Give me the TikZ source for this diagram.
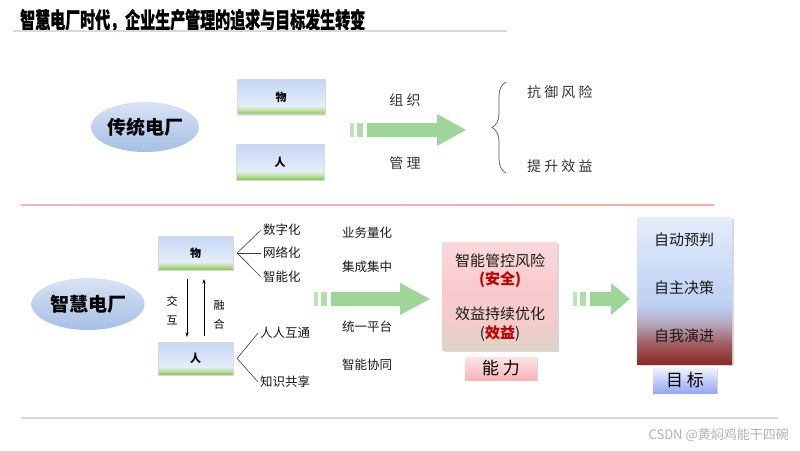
\documentclass[tikz,border=0pt]{standalone}
\usepackage{fontspec}
\setmainfont{Noto Sans CJK SC}
\newfontfamily\titlefont[BoldFeatures={FakeBold=1}]{Noto Sans CJK SC}
\usetikzlibrary{shapes.geometric, arrows.meta, positioning, decorations.pathreplacing, shadows}
\definecolor{itemtop}{HTML}{C6D7F4}
\definecolor{itemmid}{HTML}{E4EDF9}
\definecolor{itemgreenlt}{HTML}{BEDF9C}
\definecolor{itemgreen}{HTML}{80C255}
\definecolor{ovaltop}{HTML}{D8E3F4}
\definecolor{ovalbottom}{HTML}{A5BFE5}
\definecolor{arrowgreen}{HTML}{9ED598}
\definecolor{arrowgreenlt}{HTML}{BDE3B8}
\definecolor{riskred}{HTML}{C00000}
\definecolor{nlbottom}{HTML}{DDD3C5}
\definecolor{nlmid}{HTML}{F8C9CC}
\definecolor{nltop}{HTML}{FAD9DB}
\definecolor{mbred}{HTML}{8A2C2C}
\definecolor{mbmauve}{HTML}{A05556}
\definecolor{mbgrey}{HTML}{B7A9C0}
\definecolor{mbblue}{HTML}{BDD0F3}
\definecolor{mbtop}{HTML}{E4ECFA}
\pgfdeclareverticalshading{itemshade}{100bp}{color(0bp)=(itemgreen); color(25bp)=(itemgreen); color(31bp)=(itemgreenlt); color(37bp)=(itemmid); color(75bp)=(itemtop); color(100bp)=(itemtop)}
\pgfdeclareverticalshading{nlshade}{100bp}{color(0bp)=(nlbottom); color(25bp)=(nlbottom); color(38bp)=(nlmid!80!nlbottom); color(52bp)=(nlmid); color(75bp)=(nltop); color(100bp)=(nltop)}
\pgfdeclareverticalshading{mbshade}{100bp}{color(0bp)=(mbred); color(25bp)=(mbred); color(31bp)=(mbmauve); color(39bp)=(mbgrey); color(45bp)=(mbblue); color(75bp)=(mbtop); color(100bp)=(mbtop)}

\begin{document}
\begin{tikzpicture}[
    x=1pt, y=-1pt,
    itembox/.style={shading=itemshade, draw=white!85!black, line width=0.3pt, inner sep=0pt, font=\fontsize{11}{11}\selectfont\bfseries, drop shadow={opacity=0.25, shadow xshift=1pt, shadow yshift=-1pt}},
    plantoval/.style={ellipse, top color=ovaltop, bottom color=ovalbottom, inner sep=0pt, font=\fontsize{19}{19}\selectfont\bfseries},
    note/.style={inner sep=2pt, font=\fontsize{14}{14}\selectfont, text=black!80},
    item/.style={anchor=west, inner sep=2pt, font=\fontsize{12.5}{12.5}\selectfont, text=black!90},
    vlabel/.style={inner sep=0pt, align=center, font=\fontsize{11}{19}\selectfont},
    paneltext/.style={inner sep=0pt, font=\fontsize{15}{15}\selectfont, text=black!90},
    tag/.style={inner sep=0pt, font=\fontsize{17}{17}\selectfont, drop shadow={opacity=0.3, shadow xshift=1pt, shadow yshift=-1pt}},
    fan/.style={draw=black!75, line width=0.6pt},
    link/.style={-{Stealth[length=1.6mm, width=1.2mm]}, line width=0.6pt}
]
    \useasboundingbox[fill=white] (0,0) rectangle (800,450);

    % title
    \node[anchor=west, inner sep=0pt, font=\titlefont\fontsize{15}{15}\selectfont\bfseries] (title) at (20,20.5) {\scalebox{1}[1.5]{智慧电厂时代，企业生产管理的追求与目标发生转变}};
    \draw[white!85!black, line width=1.2pt] (13,31) -- (507,31);

    % traditional plant
    \node[plantoval, minimum width=108pt, minimum height=50pt] (oldplant) at (145,127) {传统电厂};
    \node[itembox, minimum width=88pt, minimum height=35pt] (wu1) at (281,97) {物};
    \node[itembox, minimum width=88pt, minimum height=36pt] (ren1) at (280,162) {人};
    \node[note] (zuzhi) at (405,100) {组 织};
    \node[note] (guanli) at (405,163) {管 理};
    \coordinate (brbottom) at (506,173);
    \coordinate (brtop) at (506,82);
    \draw[black!65, line width=0.7pt, decorate, decoration={brace, amplitude=14pt}] (brbottom) -- (brtop);
    \node[note, anchor=west] (kangyu) at (525,92) {抗 御 风 险};
    \node[note, anchor=west] (tisheng) at (525,166) {提 升 效 益};

    % separator
    \shade[left color=red!30!white, middle color=red!60!white, right color=red!35!white] (21,204.3) rectangle (714,205.8);

    % smart plant
    \node[plantoval, minimum width=113pt, minimum height=52pt] (newplant) at (88,304) {智慧电厂};
    \node[itembox, minimum width=75pt, minimum height=34pt] (wu2) at (195.5,253) {物};
    \node[itembox, minimum width=75pt, minimum height=33pt] (ren2) at (195.5,358.5) {人};
    \draw[link, shorten <=9pt, shorten >=5pt] ([xshift=-8.5pt]wu2.south) -- ([xshift=-8.5pt]ren2.north);
    \draw[link, shorten <=6pt, shorten >=9pt] ([xshift=8.5pt]ren2.north) -- ([xshift=8.5pt]wu2.south);
    \node[vlabel] (jiaohu) at (172,311) {交\\互};
    \node[vlabel] (ronghe) at (219,315) {融\\合};

    \node[item] (shuzi) at (261,230) {数字化};
    \node[item] (wangluo) at (261,253) {网络化};
    \node[item] (zhineng) at (261,277) {智能化};
    \node[item] (hutong) at (258,333) {人人互通};
    \node[item] (gongxiang) at (258,382) {知识共享};
    \coordinate (wufan) at ([xshift=4pt]wu2.east);
    \coordinate (renfan) at ([xshift=4pt]ren2.east);
    \foreach \t in {shuzi, wangluo, zhineng}
        \draw[fan] (wufan) -- (\t.west);
    \foreach \t in {hutong, gongxiang}
        \draw[fan] (renfan) -- (\t.west);

    \node[item] (lianghua) at (340,233) {业务量化};
    \node[item] (jicheng) at (340,267) {集成集中};
    \node[item] (pingtai) at (340,327) {统一平台};
    \node[item] (xietong) at (340,365) {智能协同};

    % block arrows: tip / centre / length / head length
    \foreach \tip/\cy/\len/\hl in {466/130/116/29, 430/299/116/30, 630/299/57/19} {
        \fill[arrowgreenlt] (\tip-\len,\cy-7) rectangle (\tip-\len+4,\cy+7);
        \fill[arrowgreenlt!60!arrowgreen] (\tip-\len+7,\cy-7) rectangle (\tip-\len+13,\cy+7);
        \fill[arrowgreen] (\tip-\len+17,\cy-7) -- (\tip-\hl,\cy-7) -- (\tip-\hl,\cy-16)
            -- (\tip,\cy) -- (\tip-\hl,\cy+16) -- (\tip-\hl,\cy+7) -- (\tip-\len+17,\cy+7) -- cycle;
    }

    % capability
    \node[shading=nlshade, minimum width=115pt, minimum height=108pt, inner sep=0pt, drop shadow={opacity=0.3, shadow xshift=1.5pt, shadow yshift=-1.5pt}] (nengli) at (499.5,296) {};
    \node[paneltext] (guankong) at (500,261) {智能管控风险};
    \node[paneltext, text=riskred, font=\fontsize{15}{15}\selectfont\bfseries] (anquan) at (500,280) {(安全)};
    \node[paneltext] (youhua) at (500,314) {效益持续优化};
    \node[paneltext] (xiaoyi) at (500,334) {(\textcolor{riskred}{\bfseries 效益})};
    \node[tag, top color=nltop!70!white, bottom color=nlmid!90!red, minimum width=72pt, minimum height=23pt] (nltag) at (501,368.5) {能 力};

    % target
    \node[shading=mbshade, minimum width=95pt, minimum height=147pt, inner sep=0pt, drop shadow={opacity=0.3, shadow xshift=1.5pt, shadow yshift=-1.5pt}] (mubiao) at (684.5,290.5) {};
    \node[paneltext] (yupan) at (684,240) {自动预判};
    \node[paneltext] (juece) at (684,288) {自主决策};
    \node[paneltext] (yanjin) at (684,336) {自我演进};
    \node[tag, top color=mbtop!60!white, bottom color=mbblue!80!blue, minimum width=64pt, minimum height=25pt] (mbtag) at (685,380.5) {目 标};

    % footer
    \draw[white!85!black, line width=1.2pt] (21,418) -- (778,418);
    \node[anchor=east, inner sep=0pt, text=black!30, font=\fontsize{13}{13}\selectfont] (csdn) at (789,435) {CSDN @黄焖鸡能干四碗};
\end{tikzpicture}
\end{document}
